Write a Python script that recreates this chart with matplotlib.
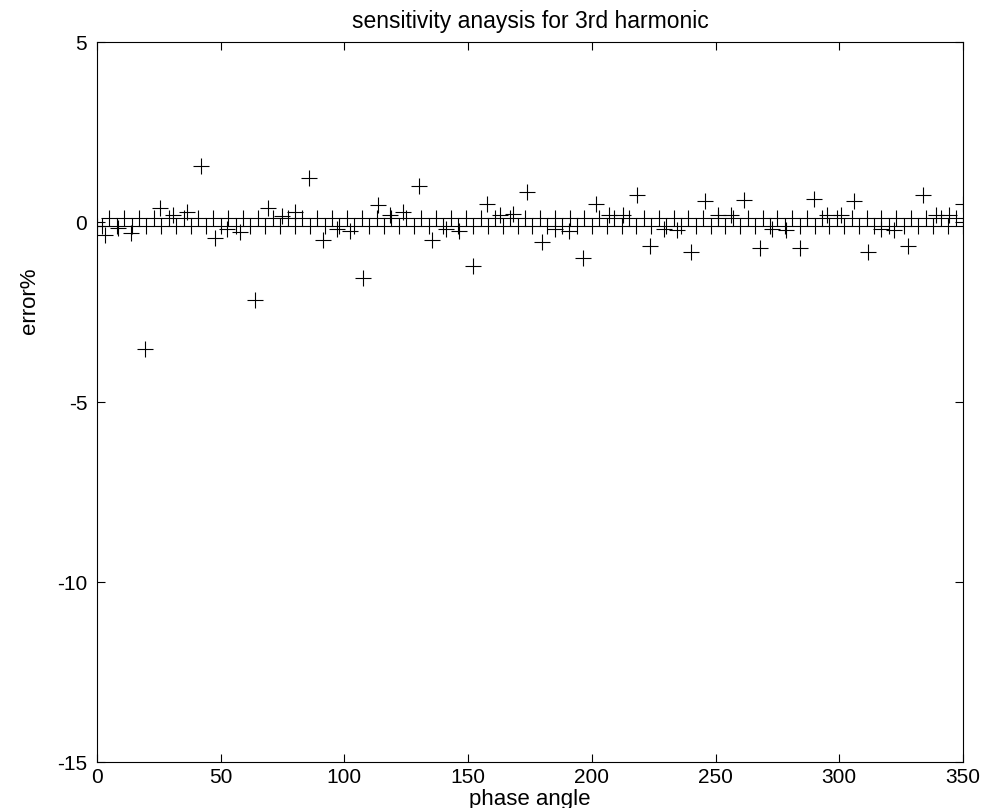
import matplotlib
matplotlib.use("Agg")
import matplotlib.pyplot as plt

# main error series
phase = [3.2, 8.3, 13.7, 19.4, 25.5, 30.6, 36.3, 42.0,
         47.5, 52.5, 57.8, 63.9, 69.3, 74.8, 80.0, 85.7,
         91.5, 96.9, 102.3, 107.6, 113.5, 118.5, 123.8, 130.0,
         135.5, 141.0, 146.5, 152.0, 157.5, 163.0, 168.3, 173.8,
         179.8, 185.1, 190.8, 196.3, 201.8, 207.1, 212.7, 218.1,
         223.6, 229.0, 234.5, 239.9, 245.8, 251.0, 256.3, 261.6,
         267.8, 273.0, 278.5, 284.2, 289.8, 295.0, 300.5, 306.0,
         311.6, 317.0, 322.3, 327.9, 334.0, 339.0, 344.5, 350.0]
error = [-0.37, -0.16, -0.30, -3.54, 0.39, 0.19, 0.28, 1.56,
         -0.44, -0.19, -0.28, -2.16, 0.39, 0.18, 0.28, 1.23,
         -0.49, -0.19, -0.26, -1.55, 0.46, 0.20, 0.28, 1.00,
         -0.51, -0.19, -0.26, -1.22, 0.51, 0.20, 0.23, 0.83,
         -0.56, -0.19, -0.26, -1.00, 0.51, 0.20, 0.20, 0.74,
         -0.67, -0.20, -0.22, -0.83, 0.57, 0.20, 0.20, 0.62,
         -0.72, -0.20, -0.22, -0.72, 0.65, 0.20, 0.20, 0.57,
         -0.83, -0.20, -0.22, -0.67, 0.74, 0.20, 0.20, 0.51]

# the two dense bands just above and below zero
phase_up = [5, 11, 17, 23, 29, 35, 41, 47, 53, 59, 65, 71, 77, 83, 89,
            95, 101, 107, 113, 119, 125, 131, 137, 143, 149, 155, 161,
            167, 173, 179, 185, 191, 197, 203, 209, 215, 221, 227, 233,
            239, 245, 251, 257, 263, 269, 275, 281, 287, 293, 299, 305,
            311, 317, 323, 329, 335, 341, 347]
error_up = [0.12] * len(phase_up)
phase_lo = [0, 2, 8, 14, 20, 26, 32, 38, 44, 50, 56, 62, 68, 74, 80, 86,
            92, 98, 104, 110, 116, 122, 128, 134, 140, 146, 152, 158,
            164, 170, 176, 182, 188, 194, 200, 206, 212, 218, 224, 230,
            236, 242, 248, 254, 260, 266, 272, 278, 284, 290, 296, 302,
            308, 314, 320, 326, 332, 338, 344, 350]
error_lo = [-0.1] * len(phase_lo)

xticks = [0, 50, 100, 150, 200, 250, 300, 350]
yticks = [-15, -10, -5, 0, 5]

plt.rcParams['font.family'] = ['Liberation Sans', 'DejaVu Sans']
plt.rcParams['axes.unicode_minus'] = False

fig = plt.figure(figsize=(9.92, 8.08), dpi=100)
ax = fig.add_axes([97 / 992, 1 - 762 / 808, 866 / 992, 720 / 808])

mk = dict(linestyle='none', marker='+', color='k', markersize=11.5,
          markeredgewidth=0.8)
ax.plot(phase_up, error_up, **mk)
ax.plot(phase_lo, error_lo, **mk)
ax.plot(phase, error, **mk)

ax.set_xlim(0, 350)
ax.set_ylim(-15, 5)
ax.set_xticks(xticks)
ax.set_yticks(yticks)
ax.tick_params(direction='in', top=True, right=True, length=6,
               width=0.8, labelsize=15)
ax.tick_params(axis='x', pad=4)
ax.tick_params(axis='y', pad=7)
for s in ax.spines.values():
    s.set_linewidth(0.8)

ax.set_title('sensitivity anaysis for 3rd harmonic', fontsize=16.5, pad=10)
ax.set_xlabel('phase angle', fontsize=16)
ax.set_ylabel('error%', fontsize=16)
ax.xaxis.set_label_coords(0.5, -0.037)
ax.yaxis.set_label_coords(-0.066, 0.64)

fig.savefig('out.png', dpi=100)
